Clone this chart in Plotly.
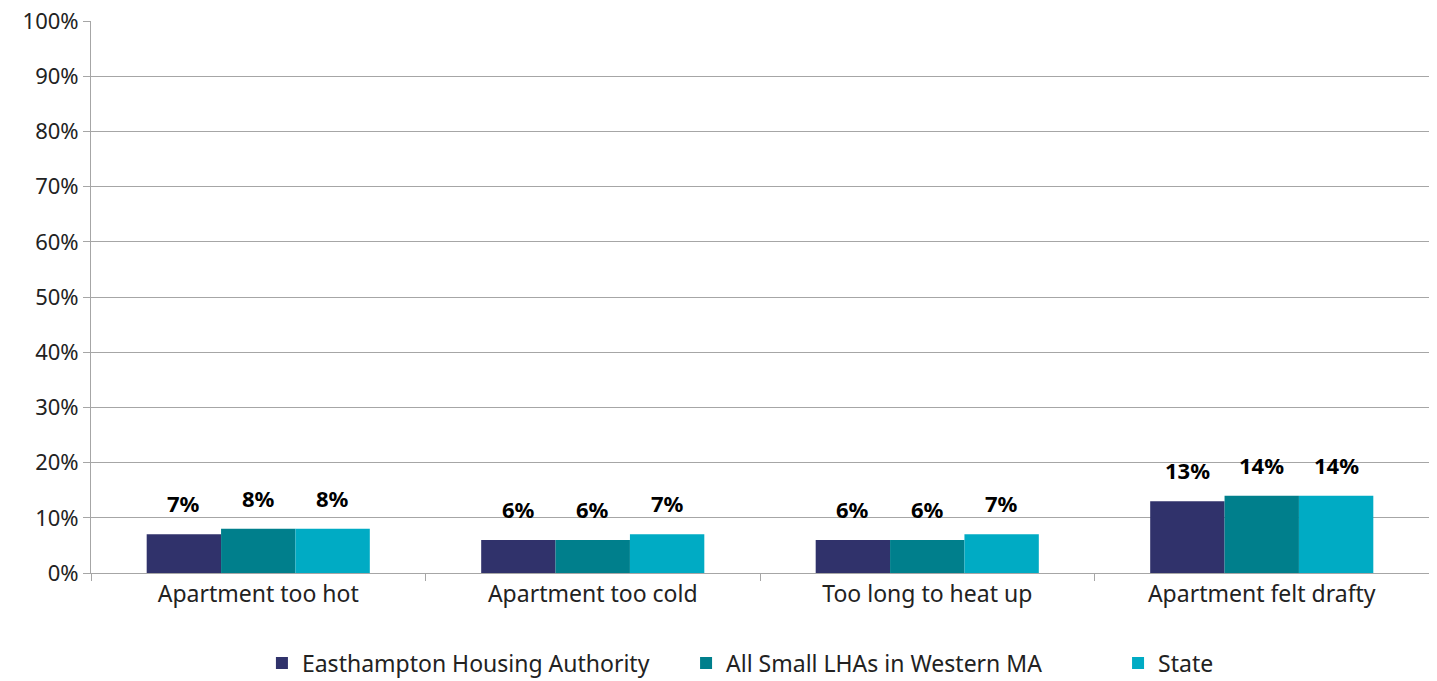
import plotly.graph_objects as go

categories = ["Apartment too hot", "Apartment too cold", "Too long to heat up", "Apartment felt drafty"]
series_names = ["Easthampton Housing Authority", "All Small LHAs in Western MA", "State"]
easthampton = [0.07, 0.06, 0.06, 0.13]
small_lhas = [0.08, 0.06, 0.06, 0.14]
state = [0.08, 0.07, 0.07, 0.14]
colors = ["#30326b", "#007f8c", "#00abc4"]

bargap = 0.333
bar_w = (1 - bargap) / 3
legend_ids = ["legend", "legend2", "legend3"]
legend_x = [0.1777, 0.4745, 0.7768]

fig = go.Figure()
annotations = []
for i, (name, vals, col) in enumerate(zip(series_names, [easthampton, small_lhas, state], colors)):
    fig.add_trace(go.Bar(
        x=categories, y=vals, name=name, marker=dict(color=col, line=dict(width=0)),
        legend=legend_ids[i], showlegend=True,
    ))
    for j, v in enumerate(vals):
        annotations.append(dict(
            x=j + (i - 1) * bar_w, y=v, xref="x", yref="y",
            text=f"<b>{round(v*100)}%</b>", showarrow=False,
            yanchor="bottom", yshift=14,
            font=dict(family="Noto Sans", size=22, color="#000000"),
        ))

legend_common = dict(orientation="h", xanchor="left", xref="container", yref="container",
                     y=0.0267, yanchor="middle", font=dict(size=23), bgcolor="rgba(0,0,0,0)")
fig.update_layout(
    width=1429, height=673, showlegend=True,
    margin=dict(l=83, r=8, t=13, b=108),
    barmode="group", bargap=bargap, bargroupgap=0,
    plot_bgcolor="white", paper_bgcolor="white",
    font=dict(family="Noto Sans", size=23, color="#222222"),
    legend=dict(x=legend_x[0], **legend_common),
    legend2=dict(x=legend_x[1], **legend_common),
    legend3=dict(x=legend_x[2], **legend_common),
    annotations=annotations,
)
fig.update_yaxes(range=[0, 1], dtick=0.1, tickformat=".0%", showgrid=True, gridcolor="#a6a6a6",
                 gridwidth=1, showline=True, linecolor="#a6a6a6", ticks="outside", ticklen=7,
                 tickcolor="#a6a6a6", zeroline=False, tickfont=dict(size=22), automargin=False,
                 ticklabeloverflow="allow")
fig.update_xaxes(showline=True, linecolor="#a6a6a6", ticks="outside", ticklen=7, tickcolor="#a6a6a6",
                 tickson="boundaries", showgrid=False, tickfont=dict(size=23), automargin=False,
                 ticklabeloverflow="allow")

fig.write_html("out.html")
